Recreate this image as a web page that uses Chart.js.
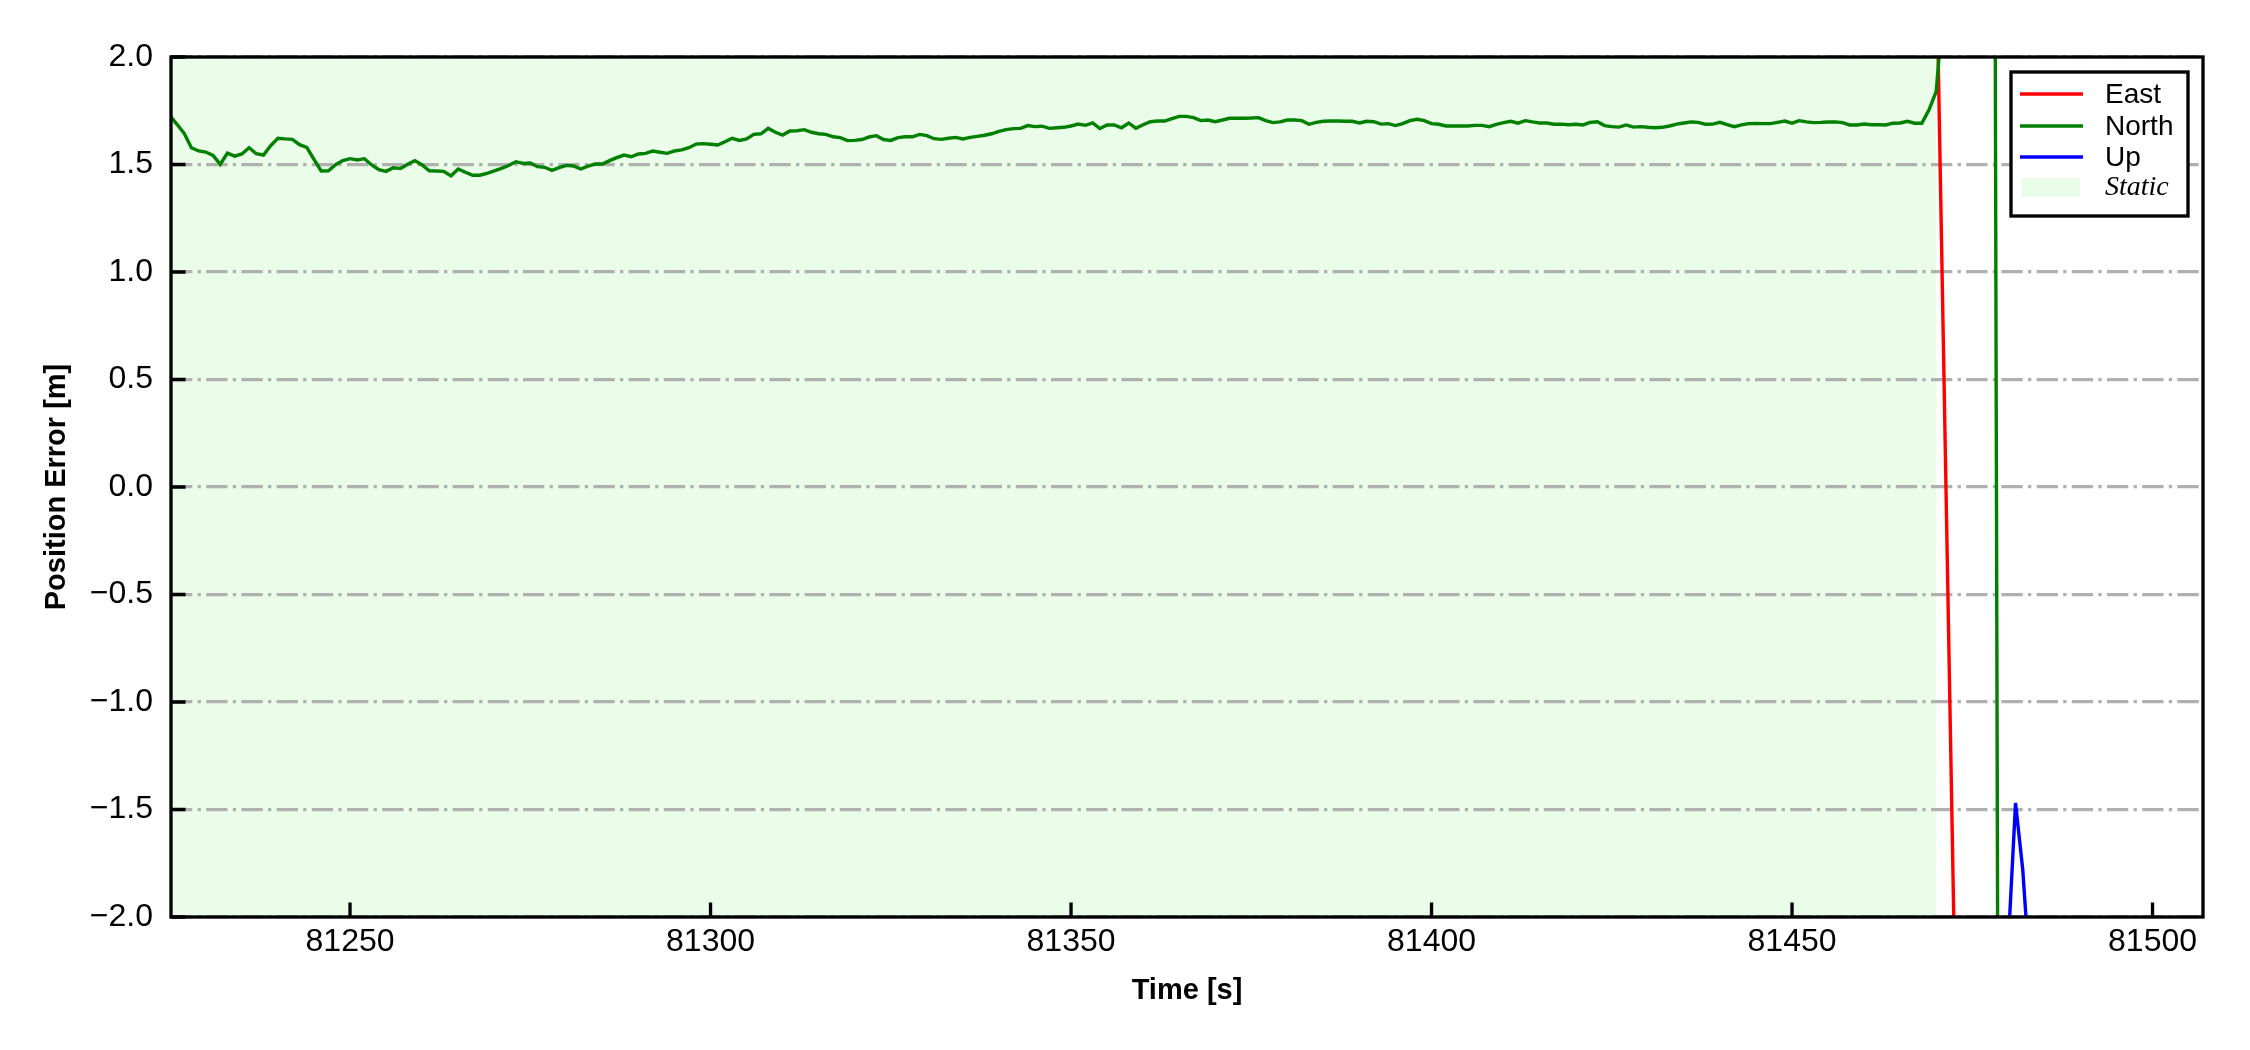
<!DOCTYPE html>
<html><head><meta charset="utf-8">
<script src="https://cdn.jsdelivr.net/npm/chart.js@4.4.1/dist/chart.umd.min.js"></script>
<style>html,body{margin:0;padding:0;background:#fff;}#wrap{width:2250px;height:1050px;}</style>
</head><body><div id="wrap"><canvas id="c" width="2250" height="1050"></canvas></div>
<script>
// ---- data ----
const xTicks = [81250, 81300, 81350, 81400, 81450, 81500];
const yTicks = [-2.0, -1.5, -1.0, -0.5, 0.0, 0.5, 1.0, 1.5, 2.0];
const xRange = [81225.17, 81507.0];
const yRange = [-2.0, 2.0];
const staticSpan = [81225.17, 81470.0];
const seriesNames = ['East', 'North', 'Up'];
const staticLabel = 'Static';

const northTime = [
81225,81226,81227,81228,81229,81230,81231,81232,81233,81234,
81235,81236,81237,81238,81239,81240,81241,81242,81243,81244,
81245,81246,81247,81248,81249,81250,81251,81252,81253,81254,
81255,81256,81257,81258,81259,81260,81261,81262,81263,81264,
81265,81266,81267,81268,81269,81270,81271,81272,81273,81274,
81275,81276,81277,81278,81279,81280,81281,81282,81283,81284,
81285,81286,81287,81288,81289,81290,81291,81292,81293,81294,
81295,81296,81297,81298,81299,81300,81301,81302,81303,81304,
81305,81306,81307,81308,81309,81310,81311,81312,81313,81314,
81315,81316,81317,81318,81319,81320,81321,81322,81323,
81324,81325,81326,81327,81328,81329,81330,81331,81332,81333,
81334,81335,81336,81337,81338,81339,81340,81341,81342,81343,
81344,81345,81346,81347,81348,81349,81350,81351,81352,81353,
81354,81355,81356,81357,81358,81359,81360,81361,81362,81363,
81364,81365,81366,81367,81368,81369,81370,81371,81372,
81373,81374,81375,81376,81377,81378,81379,81380,81381,81382,
81383,81384,81385,81386,81387,81388,81389,81390,81391,81392,
81393,81394,81395,81396,81397,81398,81399,81400,81401,81402,
81403,81404,81405,81406,81407,81408,81409,81410,81411,81412,
81413,81414,81415,81416,81417,81418,81419,81420,81421,81422,
81423,81424,81425,81426,81427,81428,81429,81430,81431,81432,
81433,81434,81435,81436,81437,81438,81439,81440,81441,81442,
81443,81444,81445,81446,81447,81448,81449,81450,81451,81452,
81453,81454,81455,81456,81457,81458,81459,81460,81461,81462,
81463,81464,81465,81466,81467,81468,81469,81470,81471,
81478,81479
];
const northErr = [
1.727,1.687,1.645,1.578,1.563,1.558,1.542,1.501,1.553,1.539,
1.549,1.578,1.550,1.544,1.588,1.622,1.619,1.617,1.592,1.580,
1.524,1.470,1.471,1.499,1.518,1.527,1.521,1.527,1.498,1.476,
1.468,1.485,1.481,1.501,1.518,1.498,1.471,1.470,1.468,1.447,
1.479,1.464,1.450,1.450,1.459,1.470,1.482,1.495,1.513,1.505,
1.507,1.490,1.487,1.473,1.485,1.496,1.493,1.479,1.492,1.502,
1.502,1.518,1.532,1.544,1.536,1.549,1.552,1.563,1.557,1.552,
1.563,1.568,1.578,1.595,1.597,1.594,1.591,1.606,1.622,1.612,
1.619,1.640,1.643,1.668,1.650,1.637,1.656,1.657,1.662,1.650,
1.643,1.640,1.629,1.625,1.611,1.612,1.616,1.628,1.634,
1.616,1.612,1.625,1.629,1.629,1.640,1.634,1.620,1.617,1.622,
1.626,1.619,1.626,1.631,1.636,1.643,1.654,1.662,1.667,1.668,
1.681,1.676,1.678,1.668,1.671,1.673,1.679,1.688,1.682,1.693,
1.667,1.684,1.684,1.671,1.693,1.668,1.685,1.699,1.702,1.702,
1.713,1.724,1.724,1.718,1.704,1.707,1.699,1.707,1.715,
1.715,1.715,1.716,1.718,1.704,1.695,1.698,1.707,1.707,1.704,
1.687,1.696,1.701,1.702,1.702,1.701,1.701,1.693,1.701,1.699,
1.688,1.690,1.681,1.690,1.704,1.710,1.704,1.690,1.687,1.679,
1.679,1.679,1.679,1.682,1.682,1.676,1.687,1.695,1.701,1.692,
1.704,1.698,1.693,1.693,1.687,1.688,1.685,1.687,1.684,1.696,
1.699,1.681,1.676,1.674,1.684,1.674,1.676,1.673,1.671,1.673,
1.679,1.688,1.693,1.698,1.696,1.687,1.688,1.696,1.685,1.676,
1.684,1.690,1.691,1.690,1.690,1.696,1.702,1.692,1.704,1.698,
1.695,1.696,1.698,1.698,1.695,1.684,1.684,1.688,1.685,1.685,
1.684,1.692,1.693,1.701,1.692,1.692,1.754,1.840,2.250,
4.4,-8.1
];
const eastTime = [81470, 81473];
const eastErr = [2.5, -3.05];
const upTime = [81480, 81481, 81482, 81483];
const upErr = [-2.12, -1.47, -1.78, -2.27];

// ---- styles ----
const SANS = "'Liberation Sans', Arial, sans-serif";
const SERIF = "'Liberation Serif', 'Times New Roman', serif";
const colors = {East: '#ff0000', North: '#008000', Up: '#0000ff'};
const shadeColor = 'rgb(233,253,233)';
const axisLW = 3.33;
const dataLW = 3.4;

const pts = (t, v) => t.map((x, i) => ({x: x, y: v[i]}));

const shadePlugin = {
  id: 'shade',
  beforeDraw(chart) {
    const {ctx, chartArea: a, scales: {x}} = chart;
    const x0 = Math.max(a.left, x.getPixelForValue(staticSpan[0]));
    const x1 = Math.min(a.right, x.getPixelForValue(staticSpan[1]));
    ctx.save();
    ctx.fillStyle = shadeColor;
    ctx.fillRect(x0, a.top, x1 - x0, a.bottom - a.top);
    ctx.restore();
  }
};

const framePlugin = {
  id: 'frame',
  afterDatasetsDraw(chart) {
    const {ctx, chartArea: a, scales: {x, y}} = chart;
    ctx.save();
    ctx.strokeStyle = '#000';
    ctx.lineWidth = axisLW;
    ctx.beginPath();
    xTicks.forEach(v => {
      const px = x.getPixelForValue(v);
      ctx.moveTo(px, a.bottom); ctx.lineTo(px, a.bottom - 14.6);
    });
    yTicks.forEach(v => {
      const py = y.getPixelForValue(v);
      ctx.moveTo(a.left, py); ctx.lineTo(a.left + 14.6, py);
    });
    ctx.stroke();
    ctx.strokeRect(a.left, a.top, a.right - a.left, a.bottom - a.top);
    ctx.restore();
  }
};

const legendPlugin = {
  id: 'boxLegend',
  afterDraw(chart) {
    const {ctx, chartArea: a} = chart;
    const L = a.right - 192, T = a.top + 15, W = 177, H = 144;
    ctx.save();
    ctx.fillStyle = '#fff';
    ctx.fillRect(L, T, W, H);
    ctx.strokeStyle = '#000';
    ctx.lineWidth = axisLW;
    ctx.strokeRect(L, T, W, H);
    const rows = [T + 22, T + 54, T + 85];
    seriesNames.forEach((n, i) => {
      ctx.strokeStyle = colors[n];
      ctx.lineWidth = dataLW;
      ctx.beginPath();
      ctx.moveTo(L + 9, rows[i]); ctx.lineTo(L + 72, rows[i]);
      ctx.stroke();
      ctx.fillStyle = '#000';
      ctx.font = '28px ' + SANS;
      ctx.textBaseline = 'middle';
      ctx.textAlign = 'left';
      ctx.fillText(n, L + 94, rows[i] + 1);
    });
    ctx.fillStyle = shadeColor;
    ctx.fillRect(L + 11, T + 106, 58, 19);
    ctx.fillStyle = '#000';
    ctx.font = 'italic 28px ' + SERIF;
    ctx.textBaseline = 'middle';
    ctx.fillText(staticLabel, L + 94, T + 116);
    ctx.restore();
  }
};

const lineDs = (name, t, v, order) => ({
  label: name, data: pts(t, v), borderColor: colors[name], backgroundColor: colors[name],
  borderWidth: dataLW, pointRadius: 0, fill: false, tension: 0, order: order
});

new Chart(document.getElementById('c'), {
  type: 'line',
  data: {
    datasets: [
      lineDs('East', eastTime, eastErr, 2),
      lineDs('North', northTime, northErr, 1),
      lineDs('Up', upTime, upErr, 0)
    ]
  },
  options: {
    responsive: false,
    animation: false,
    devicePixelRatio: 1,
    layout: {padding: {top: 57, right: 47, left: 0, bottom: 0}},
    plugins: {legend: {display: false}, tooltip: {enabled: false}},
    scales: {
      x: {
        type: 'linear', min: xRange[0], max: xRange[1],
        afterBuildTicks: s => { s.ticks = xTicks.map(v => ({value: v})); },
        afterFit: s => { s.height = 133; },
        grid: {display: false, drawTicks: false},
        border: {display: false},
        ticks: {padding: 6, color: '#000', font: {family: SANS, size: 32}, autoSkip: false, maxRotation: 0,
                callback: v => String(v)},
        title: {display: true, text: 'Time [s]', color: '#000',
                font: {family: SANS, size: 29, weight: 'bold'}, padding: {top: 0, bottom: 42}}
      },
      y: {
        type: 'linear', min: yRange[0], max: yRange[1],
        afterBuildTicks: s => { s.ticks = yTicks.map(v => ({value: v})); },
        afterFit: s => { s.width = 171; },
        grid: {display: true, drawTicks: false, color: '#b0b0b0', lineWidth: 3.33},
        border: {display: false, dash: [21.3, 5.3, 3.3, 5.3]},
        ticks: {padding: 18, color: '#000', font: {family: SANS, size: 32}, autoSkip: false,
                callback: v => v.toFixed(1).replace('-', '\u2212')},
        title: {display: true, text: 'Position Error [m]', color: '#000',
                font: {family: SANS, size: 29, weight: 'bold'}, padding: {top: 40, bottom: 0}}
      }
    }
  },
  plugins: [shadePlugin, framePlugin, legendPlugin]
});
</script>
</body></html>
